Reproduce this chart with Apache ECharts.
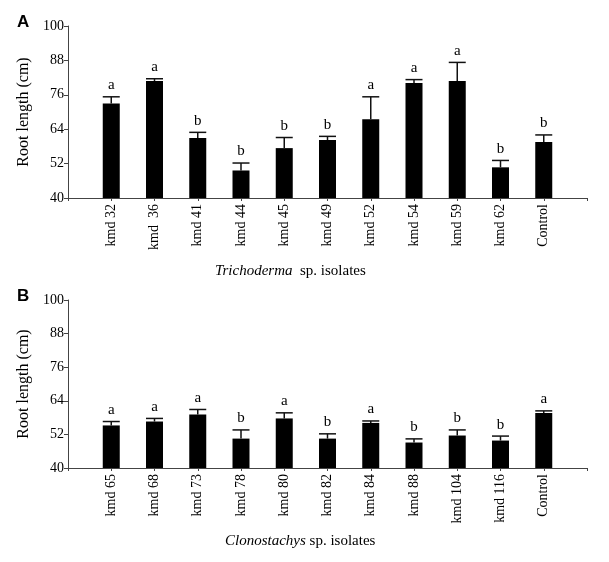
<!DOCTYPE html>
<html>
<head>
<meta charset="utf-8">
<script src="https://cdn.jsdelivr.net/npm/echarts@6/dist/echarts.min.js"></script>
<style>
html,body{margin:0;padding:0;background:#fff;}
#chart{width:609px;height:562px;}
</style>
</head>
<body>
<div id="chart"></div>
<script>
// Panel A: Trichoderma isolates
const catsA = ['kmd 32','kmd  36','kmd 41','kmd 44','kmd 45','kmd 49','kmd 52','kmd 54','kmd 59','kmd 62','Control'];
const meansA = [73.0, 80.8, 60.9, 49.6, 57.4, 60.2, 67.5, 80.1, 80.8, 50.7, 59.5];
const errA = [2.3, 0.8, 2.0, 2.6, 3.7, 1.3, 7.8, 1.2, 6.5, 2.4, 2.5];
const lettersA = ['a','a','b','b','b','b','a','a','a','b','b'];

// Panel B: Clonostachys isolates
const catsB = ['kmd 65','kmd 68','kmd 73','kmd 78','kmd 80','kmd 82','kmd 84','kmd 88','kmd 104','kmd 116','Control'];
const meansB = [55.2, 56.6, 59.1, 50.5, 57.7, 50.5, 56.1, 49.1, 51.6, 49.8, 59.6];
const errB = [1.4, 1.1, 1.8, 3.1, 2.0, 1.7, 0.7, 1.3, 2.0, 1.6, 0.8];
const lettersB = ['a','a','a','b','a','b','a','b','b','b','a'];

const yTicks = [40, 52, 64, 76, 88, 100];

const SERIF = 'Liberation Serif, Times New Roman, serif';
const AXIS_COLOR = '#444';

function padCats(c){ return [''].concat(c).concat(['']); }
function padVals(v){ return ['-'].concat(v).concat(['-']); }
function errData(means, errs){ return means.map((m,i)=>[i+1, m, errs[i]]); }

function makeRender(letters){
  return function(params, api){
    const x = api.value(0), m = api.value(1), e = api.value(2);
    const base = api.coord([x, m]);
    const top = api.coord([x, m + e]);
    const hw = 8.5;
    const st = {stroke:'#111', lineWidth:1.5};
    return {type:'group', children:[
      {type:'line', shape:{x1:top[0], y1:base[1], x2:top[0], y2:top[1]}, style:st},
      {type:'line', shape:{x1:top[0]-hw, y1:top[1], x2:top[0]+hw, y2:top[1]}, style:st},
      {type:'text', x:top[0], y:top[1]-4, style:{text:letters[params.dataIndex], fontFamily:SERIF, fontSize:15, fill:'#000', align:'center', verticalAlign:'bottom'}}
    ]};
  };
}

function xAxis(cats, gi){
  return {
    type:'category', gridIndex:gi, data:padCats(cats), boundaryGap:false,
    axisLine:{lineStyle:{color:AXIS_COLOR, width:1}},
    axisTick:{show:true, interval:0, length:3, lineStyle:{color:AXIS_COLOR}},
    axisLabel:{interval:0, rotate:90, margin:6, fontFamily:SERIF, fontSize:14, color:'#000'},
    splitLine:{show:false}
  };
}
function yAxis(gi){
  return {
    type:'value', gridIndex:gi, min:40, max:100,
    name:'Root length (cm)', nameLocation:'middle', nameGap:29,
    nameTextStyle:{fontFamily:SERIF, fontSize:16, color:'#000'},
    axisLine:{show:true, lineStyle:{color:AXIS_COLOR, width:1}},
    axisTick:{show:true, length:4, customValues:yTicks, lineStyle:{color:AXIS_COLOR}},
    axisLabel:{customValues:yTicks, margin:4, fontFamily:SERIF, fontSize:14, color:'#000'},
    splitLine:{show:false}
  };
}

const chart = echarts.init(document.getElementById('chart'));
chart.setOption({
  animation:false,
  backgroundColor:'#fff',
  title:[
    {text:'A', left:12, top:9, textStyle:{fontFamily:'Liberation Sans, Arial, sans-serif', fontWeight:'bold', fontSize:17, color:'#000'}},
    {text:'B', left:12, top:283, textStyle:{fontFamily:'Liberation Sans, Arial, sans-serif', fontWeight:'bold', fontSize:17, color:'#000'}},
    {text:'{i|Trichoderma}  sp. isolates', left:210, top:259,
      textStyle:{fontFamily:SERIF, fontSize:15, fontWeight:'normal', color:'#000', rich:{i:{fontFamily:SERIF, fontSize:15, fontStyle:'italic', color:'#000'}}}},
    {text:'{i|Clonostachys} sp. isolates', left:220, top:529,
      textStyle:{fontFamily:SERIF, fontSize:15, fontWeight:'normal', color:'#000', rich:{i:{fontFamily:SERIF, fontSize:15, fontStyle:'italic', color:'#000'}}}}
  ],
  grid:[
    {left:68, top:26, width:519, height:172},
    {left:68, top:300, width:519, height:168}
  ],
  xAxis:[xAxis(catsA,0), xAxis(catsB,1)],
  yAxis:[yAxis(0), yAxis(1)],
  series:[
    {type:'bar', xAxisIndex:0, yAxisIndex:0, data:padVals(meansA), barWidth:17, itemStyle:{color:'#000'}},
    {type:'custom', xAxisIndex:0, yAxisIndex:0, data:errData(meansA, errA), renderItem:makeRender(lettersA), z:5},
    {type:'bar', xAxisIndex:1, yAxisIndex:1, data:padVals(meansB), barWidth:17, itemStyle:{color:'#000'}},
    {type:'custom', xAxisIndex:1, yAxisIndex:1, data:errData(meansB, errB), renderItem:makeRender(lettersB), z:5}
  ]
});
</script>
</body>
</html>
